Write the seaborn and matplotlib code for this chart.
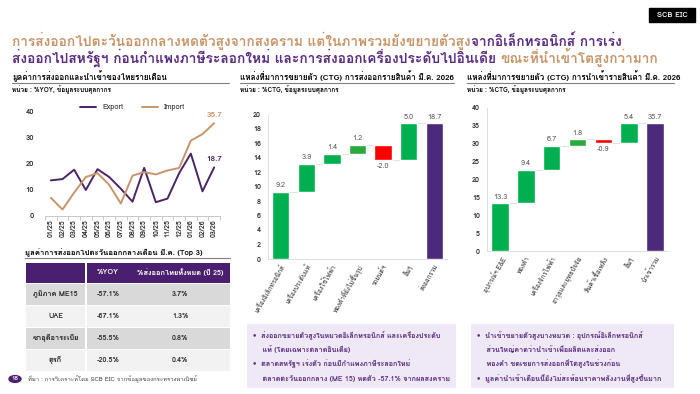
import numpy as np
import pandas as pd
import matplotlib
matplotlib.use("Agg")
import matplotlib.pyplot as plt
import seaborn as sns
from matplotlib import font_manager
from matplotlib.ft2font import FT2Font
from matplotlib.patches import Rectangle, Circle

# ---- data ----
months = ["01/25", "02/25", "03/25", "04/25", "05/25", "06/25", "07/25", "08/25",
          "09/25", "10/25", "11/25", "12/25", "01/26", "02/26", "03/26"]
export_yoy = [13.7, 14.2, 17.8, 10.0, 18.0, 15.0, 10.5, 5.5, 18.5, 5.3, 6.7, 16.5, 24.0, 9.5, 18.7]
import_yoy = [7.0, 2.5, 9.0, 15.0, 16.5, 12.0, 4.8, 15.5, 16.9, 16.0, 17.5, 18.5, 29.0, 31.5, 35.7]

exp_items = ["เครื่องอิเล็กทรอนิกส์", "เครื่องประดับแท้", "เครื่องใช้ไฟฟ้า",
             "ทองคำที่ยังไม่ขึ้นรูป", "รถยนต์ฯ", "อื่นๆ", "ส่งออกรวม"]
exp_ctg = [9.2, 3.9, 1.4, 1.2, -2.0, 5.0]
exp_total = 18.7

imp_items = ["อุปกรณ์ฯ E&E", "ทองคำ", "เครื่องจักรไฟฟ้า", "อาวุธและยุทธปัจจัย",
             "สินค้าเชื้อเพลิง", "อื่นๆ", "นำเข้ารวม"]
imp_ctg = [13.3, 9.4, 6.7, 1.8, -0.9, 5.4]
imp_total = 35.7

tbl_cols = ["", "%YOY", "%ส่งออกไทยทั้งหมด (ปี 25)"]
tbl_country = ["ภูมิภาค ME15", "UAE", "ซาอุดีอาระเบีย", "ตุรกี"]
tbl_yoy = ["-57.1%", "-67.1%", "-55.5%", "-20.5%"]
tbl_share = ["3.7%", "1.3%", "0.8%", "0.4%"]

# ---- fonts: find something with Thai glyphs ----
def thai_family():
    for f in font_manager.fontManager.ttflist:
        try:
            if 0x0E01 in FT2Font(f.fname).get_charmap():
                return f.name
        except Exception:
            pass
    return None

sns.set_theme(style="white")
fam = thai_family()
plt.rcParams['font.family'] = ([fam] if fam else []) + ['DejaVu Sans']

PURPLE = "#5B2C83"
TAN = "#C8956A"
GREEN = "#00B050"
GREEN2 = "#2AAA3C"
RED = "#FF0000"
TOTAL = "#4B2A7B"
GRAY = "#595959"

W, H = 700, 394
fig = plt.figure(figsize=(7, 3.94), dpi=100)


def fx(px):
    return px / W


def fy(py):
    return 1 - py / H


def box(l, t, r, b):
    return [fx(l), fy(b), (r - l) / W, (b - t) / H]


# ---- headline (two colours per line) ----
renderer = fig.canvas.get_renderer()


def colored_line(x, y, parts, size):
    for txt, col in parts:
        t = fig.text(fx(x), fy(y), txt, color=col, fontsize=size, fontweight="bold", va="baseline")
        bb = t.get_window_extent(renderer=renderer)
        x += bb.width


colored_line(12, 46, [("การส่งออกไปตะวันออกกลางหดตัวสูงจากสงคราม แต่ในภาพรวมยังขยายตัวสูง", TAN),
                      ("จากอิเล็กทรอนิกส์ การเร่ง", PURPLE)], 9.9)
colored_line(12, 63, [("ส่งออกไปสหรัฐฯ ก่อนกำแพงภาษีระลอกใหม่ และการส่งออกเครื่องประดับไปอินเดีย ", PURPLE),
                      ("ขณะที่นำเข้าโตสูงกว่ามาก", TAN)], 9.9)

# logo
fig.patches.append(Rectangle((fx(649), fy(22)), 46 / W, 14 / H, transform=fig.transFigure,
                             color="black"))
fig.text(fx(672), fy(15), "SCB EIC", color="white", fontsize=5.5, fontweight="bold",
         ha="center", va="center")

# section headers
def section(x0, x1, title, unit):
    fig.text(fx(x0), fy(80), title, fontsize=5.8, fontweight="bold", color="black")
    fig.lines.append(plt.Line2D([fx(x0), fx(x1)], [fy(83), fy(83)], transform=fig.transFigure,
                                color="#7F7F7F", lw=0.8))
    fig.text(fx(x0), fy(92), unit, fontsize=4.6, fontweight="bold", color="black")


section(12, 229, "มูลค่าการส่งออกและนำเข้าของไทยรายเดือน", "หน่วย : %YOY, ข้อมูลระบบศุลกากร")
section(240, 454, "แหล่งที่มาการขยายตัว (CTG) การส่งออกรายสินค้า มี.ค. 2026", "หน่วย : %CTG, ข้อมูลระบบศุลกากร")
section(467, 674, "แหล่งที่มาการขยายตัว (CTG) การนำเข้ารายสินค้า มี.ค. 2026", "หน่วย : %CTG, ข้อมูลระบบศุลกากร")

# ---- line chart ----
ax1 = fig.add_axes(box(45, 112, 220, 216))
df = pd.DataFrame({"month": months * 2,
                   "value": export_yoy + import_yoy,
                   "series": ["Export"] * len(months) + ["Import"] * len(months)})
sns.lineplot(data=df, x="month", y="value", hue="series", sort=False,
             palette={"Export": "#4B2466", "Import": "#C8956A"}, lw=1.4, ax=ax1)
ax1.set_xlim(-0.5, len(months) - 0.5)
ax1.set_ylim(0, 40)
ax1.set_yticks([0, 10, 20, 30, 40])
ax1.set_xlabel("")
ax1.set_ylabel("")
for s in ["top", "right", "left"]:
    ax1.spines[s].set_visible(False)
ax1.spines["bottom"].set_color("#BFBFBF")
ax1.spines["bottom"].set_linewidth(0.6)
ax1.set_xticks(np.arange(len(months) + 1) - 0.5, minor=True)
ax1.tick_params(axis="x", which="minor", length=3, color="#BFBFBF", width=0.6, bottom=True)
ax1.tick_params(axis="x", which="major", length=0, labelsize=5.2, rotation=90, pad=2)
ax1.tick_params(axis="y", length=0, labelsize=5.5, pad=8)
for lab in ax1.get_xticklabels() + ax1.get_yticklabels():
    lab.set_fontweight("bold")
ax1.legend(loc="lower center", bbox_to_anchor=(0.5, 0.98), ncol=2, frameon=False,
           fontsize=5.3, handlelength=2.2, columnspacing=2.5, borderaxespad=0)
ax1.text(len(months) - 1, import_yoy[-1] + 2.5, f"{import_yoy[-1]:.1f}", color=TAN,
         fontsize=5.8, fontweight="bold", ha="center")
ax1.text(len(months) - 1, export_yoy[-1] + 2.5, f"{export_yoy[-1]:.1f}", color="#4B2466",
         fontsize=5.8, fontweight="bold", ha="center")

# ---- table ----
fig.text(fx(25), fy(255), "มูลค่าการส่งออกไปตะวันออกกลางเดือน มี.ค. (Top 3)", fontsize=5.6,
         fontweight="bold", color="black")
fig.lines.append(plt.Line2D([fx(25), fx(230)], [fy(258), fy(258)], transform=fig.transFigure,
                            color="#7F7F7F", lw=0.8))
axt = fig.add_axes(box(25, 262, 231, 371))
axt.set_xlim(25, 231)
axt.set_ylim(371, 262)
axt.axis("off")
col_x = [25, 86, 130, 231]
row_y = [262, 283, 305, 327, 349, 371]
fills = ["#4B1F6F", "#D9D9D9", "#F2F2F2", "#D9D9D9", "#F2F2F2"]
rows = [tbl_cols] + [[c, y, s] for c, y, s in zip(tbl_country, tbl_yoy, tbl_share)]
for r in range(5):
    for c in range(3):
        axt.add_patch(Rectangle((col_x[c] + 0.5, row_y[r] + 0.5), col_x[c + 1] - col_x[c] - 1,
                                row_y[r + 1] - row_y[r] - 1, color=fills[r], lw=0))
        axt.text((col_x[c] + col_x[c + 1]) / 2, (row_y[r] + row_y[r + 1]) / 2, rows[r][c],
                 ha="center", va="center", fontsize=5.3, fontweight="bold",
                 color="white" if r == 0 else "#262626")

# footer
fig.patches.append(Circle((fx(15), fy(379)), 6 / W, transform=fig.transFigure, color="#4B1F6F"))
fig.text(fx(15), fy(379), "18", color="white", fontsize=4.5, fontweight="bold", ha="center", va="center")
fig.text(fx(28), fy(379), "ที่มา : การวิเคราะห์โดย SCB EIC จากข้อมูลของกระทรวงพาณิชย์", fontsize=4.3,
         color="#404040", va="center")


# ---- waterfalls ----
def waterfall(ax, items, ctg, total, ymax, step):
    vals = np.array(ctg)
    ends = np.cumsum(vals)
    starts = ends - vals
    bottoms = np.minimum(starts, ends)
    heights = np.abs(vals)
    colors = [GREEN if v > 0 else RED for v in vals]
    colors[3] = GREEN2
    xs = np.arange(len(items))
    ax.bar(xs[:-1], heights, bottom=bottoms, color=colors, width=0.68, zorder=3)
    ax.bar(xs[-1], total, color=TOTAL, width=0.68, zorder=3)
    levels = list(ends)
    for i, lv in enumerate(levels):
        ax.plot([xs[i] - 0.34, xs[i] + 1.34], [lv, lv], color="#E3E3E3", lw=0.8, zorder=2)
    for i, v in enumerate(vals):
        if v >= 0:
            ax.text(xs[i], ends[i] + ymax * 0.02, f"{v:.1f}", ha="center", va="bottom",
                    fontsize=5.3, color=GRAY)
        else:
            ax.text(xs[i], ends[i] - ymax * 0.02, f"{v:.1f}", ha="center", va="top",
                    fontsize=5.3, color=GRAY)
    ax.text(xs[-1], total + ymax * 0.02, f"{total:.1f}", ha="center", va="bottom",
            fontsize=5.3, color=GRAY)
    ax.set_xlim(-0.5, len(items) - 0.5)
    ax.set_ylim(0, ymax)
    ax.set_yticks(np.arange(0, ymax + 0.1, step))
    ax.set_xticks(xs)
    ax.set_xticklabels(items, rotation=60, ha="right", rotation_mode="anchor", fontsize=4.6)
    ax.tick_params(axis="both", length=0)
    ax.tick_params(axis="y", labelsize=5.3, pad=5)
    ax.tick_params(axis="x", pad=3)
    for lab in ax.get_yticklabels():
        lab.set_fontweight("bold")
    for s in ["top", "right"]:
        ax.spines[s].set_visible(False)
    for s in ["left", "bottom"]:
        ax.spines[s].set_color("#D9D9D9")
        ax.spines[s].set_linewidth(0.6)


ax2 = fig.add_axes(box(268, 114, 447, 259))
waterfall(ax2, exp_items, exp_ctg, exp_total, 20, 2)
ax3 = fig.add_axes(box(487, 108, 668, 251))
waterfall(ax3, imp_items, imp_ctg, imp_total, 40, 5)

# ---- bullet boxes ----
left_notes = ["•  ส่งออกขยายตัวสูงในหมวดอิเล็กทรอนิกส์ และเครื่องประดับ",
              "    แท้ (โดยเฉพาะตลาดอินเดีย)",
              "•  ตลาดสหรัฐฯ เร่งตัว ก่อนมีกำแพงภาษีระลอกใหม่",
              "    ตลาดตะวันออกกลาง (ME 15) หดตัว -57.1% จากผลสงคราม"]
right_notes = ["•  นำเข้าขยายตัวสูงบางหมวด : อุปกรณ์อิเล็กทรอนิกส์",
               "    ส่วนใหญ่คาดว่านำเข้าเพื่อผลิตและส่งออก",
               "    ทองคำ ชดเชยการส่งออกที่โตสูงในช่วงก่อน",
               "•  มูลค่านำเข้าเดือนนี้ยังไม่สะท้อนราคาพลังงานที่สูงขึ้นมาก"]
for (l, r, notes) in [(247, 456, left_notes), (471, 674, right_notes)]:
    fig.patches.append(Rectangle((fx(l), fy(388)), (r - l) / W, 64 / H, transform=fig.transFigure,
                                 color="#EFE8F6", lw=0))
    for k, line in enumerate(notes):
        fig.text(fx(l + 6), fy(335 + k * 14.5), line, fontsize=5.2, fontweight="bold",
                 color=PURPLE, va="center")

fig.savefig("out.png", dpi=100)
